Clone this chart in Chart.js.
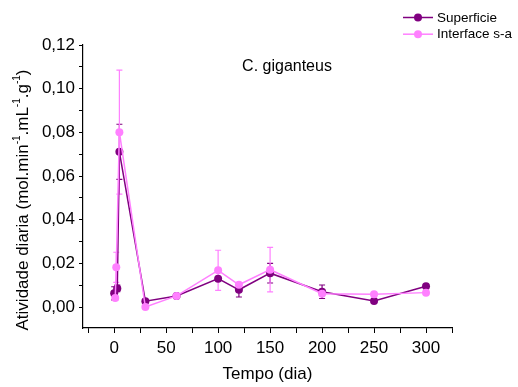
<!DOCTYPE html>
<html>
<head>
<meta charset="utf-8">
<script src="https://cdn.jsdelivr.net/npm/chart.js@4"></script>
<style>
  html, body { margin: 0; padding: 0; background: #fff; }
</style>
</head>
<body>
<canvas id="myChart" width="518" height="387"></canvas>
<script>
// data
const superDays = [0, 3, 5, 30, 60, 100, 120, 150, 200, 250, 300];
const superVals = [0.0063, 0.0085, 0.0711, 0.0027, 0.0051, 0.0130, 0.0079, 0.0155, 0.0070, 0.0028, 0.0095];
const superErr  = [0.0030, 0.0015, 0.0126, 0, 0, 0, 0.0033, 0.0045, 0.0031, 0, 0];

const interDays = [1, 2, 5, 30, 60, 100, 120, 150, 200, 250, 300];
const interVals = [0.0041, 0.0182, 0.0801, 0.0000, 0.0051, 0.0168, 0.0102, 0.0171, 0.0061, 0.0058, 0.0066];
const interErr  = [0.0010, 0.0069, 0.0284, 0, 0, 0.0092, 0, 0.0102, 0, 0, 0];

const xTicks = [-25, 0, 25, 50, 75, 100, 125, 150, 175, 200, 225, 250, 275, 300, 325];
const xLabels = [0, 50, 100, 150, 200, 250, 300];
const yTicks = [0, 0.01, 0.02, 0.03, 0.04, 0.05, 0.06, 0.07, 0.08, 0.09, 0.10, 0.11, 0.12];
const yLabels = [0, 0.02, 0.04, 0.06, 0.08, 0.10, 0.12];

const darkColor = "#800080";
const pinkColor = "#ff80ff";
const FONT = "'Liberation Sans', Arial, sans-serif";

Chart.defaults.font.family = FONT;
Chart.defaults.color = "#000";

const toPoints = (xs, ys) => xs.map((x, i) => ({ x: x, y: ys[i] }));
const isLabel = (list, v) => list.some(l => Math.abs(l - v) < 1e-9);

const errorBars = {
    id: "errorBars",
    beforeDatasetsDraw(chart) {
        const ctx = chart.ctx;
        const xs = chart.scales.x, ys = chart.scales.y;
        chart.data.datasets.forEach(ds => {
            ctx.save();
            ctx.strokeStyle = ds.borderColor;
            ctx.lineWidth = 1.2;
            ds.data.forEach((p, i) => {
                const e = ds.err[i];
                if (!e) return;
                const px = xs.getPixelForValue(p.x);
                const top = ys.getPixelForValue(p.y + e);
                const bot = ys.getPixelForValue(p.y - e);
                ctx.beginPath();
                ctx.moveTo(px, top); ctx.lineTo(px, bot);
                ctx.moveTo(px - 3, top); ctx.lineTo(px + 3, top);
                ctx.moveTo(px - 3, bot); ctx.lineTo(px + 3, bot);
                ctx.stroke();
            });
            ctx.restore();
        });
    }
};

const extras = {
    id: "extras",
    afterDraw(chart) {
        const ctx = chart.ctx;
        const area = chart.chartArea;
        ctx.save();
        // inner label
        ctx.fillStyle = "#000";
        ctx.font = "16px " + FONT;
        ctx.textAlign = "center";
        ctx.textBaseline = "middle";
        ctx.fillText("C. giganteus", area.left + 204, area.top + 22);

        // legend
        ctx.font = "13.5px " + FONT;
        ctx.textAlign = "left";
        chart.data.datasets.forEach((ds, i) => {
            const y = 17.5 + i * 16.7;
            ctx.strokeStyle = ds.borderColor;
            ctx.lineWidth = 1.5;
            ctx.beginPath();
            ctx.moveTo(403, y); ctx.lineTo(433, y);
            ctx.stroke();
            ctx.fillStyle = ds.backgroundColor;
            ctx.beginPath();
            ctx.arc(418, y, 4, 0, Math.PI * 2);
            ctx.fill();
            ctx.fillStyle = "#000";
            ctx.fillText(ds.label, 437, y + 0.5);
        });

        // y title with superscripts
        const parts = [
            ["Atividade diaria (mol.min", false], ["-1", true], [".mL", false],
            ["-1", true], [".g", false], ["-1", true], [")", false]
        ];
        const big = "17px " + FONT, small = "10px " + FONT;
        let total = 0;
        parts.forEach(p => { ctx.font = p[1] ? small : big; total += ctx.measureText(p[0]).width; });
        ctx.translate(23, 200);
        ctx.rotate(-Math.PI / 2);
        ctx.textBaseline = "middle";
        let cx = -total / 2;
        parts.forEach(p => {
            ctx.font = p[1] ? small : big;
            ctx.fillText(p[0], cx, p[1] ? -6 : 0);
            cx += ctx.measureText(p[0]).width;
        });
        ctx.restore();
    }
};

const ctx = document.getElementById("myChart").getContext("2d");
new Chart(ctx, {
    type: "line",
    data: {
        datasets: [
            {
                label: "Superficie",
                data: toPoints(superDays, superVals),
                err: superErr,
                borderColor: darkColor,
                backgroundColor: darkColor,
                borderWidth: 1.5,
                pointRadius: 4,
                pointBorderWidth: 0,
                order: 1,
            },
            {
                label: "Interface s-a",
                data: toPoints(interDays, interVals),
                err: interErr,
                borderColor: pinkColor,
                backgroundColor: pinkColor,
                borderWidth: 1.5,
                pointRadius: 4,
                pointBorderWidth: 0,
                order: 0,
            },
        ],
    },
    options: {
        responsive: false,
        animation: false,
        layout: { padding: { top: 45, right: 66, left: 0, bottom: 0 } },
        plugins: {
            legend: { display: false },
            tooltip: { enabled: false },
        },
        scales: {
            x: {
                type: "linear",
                min: -30,
                max: 325,
                afterFit: s => { s.height = 59; },
                afterBuildTicks: s => { s.ticks = xTicks.map(v => ({ value: v })); },
                ticks: {
                    autoSkip: false,
                    maxRotation: 0,
                    padding: 5,
                    font: { size: 17 },
                    callback: v => (isLabel(xLabels, v) ? String(v) : ""),
                },
                grid: { drawOnChartArea: false, drawTicks: true, tickLength: 5, tickColor: "#000" },
                border: { display: true, color: "#000", width: 1.2 },
                title: { display: true, text: "Tempo (dia)", font: { size: 17 }, padding: { top: 0, bottom: 2 } },
            },
            y: {
                type: "linear",
                min: -0.0096,
                max: 0.12,
                afterFit: s => { s.width = 83; },
                afterBuildTicks: s => { s.ticks = yTicks.map(v => ({ value: v })); },
                ticks: {
                    autoSkip: false,
                    padding: 4,
                    font: { size: 17 },
                    callback: v => (isLabel(yLabels, v) ? v.toFixed(2).replace(".", ",") : ""),
                },
                grid: { drawOnChartArea: false, drawTicks: true, tickLength: 4, tickColor: "#000" },
                border: { display: true, color: "#000", width: 1.2 },
            },
        },
    },
    plugins: [errorBars, extras],
});
</script>
</body>
</html>
